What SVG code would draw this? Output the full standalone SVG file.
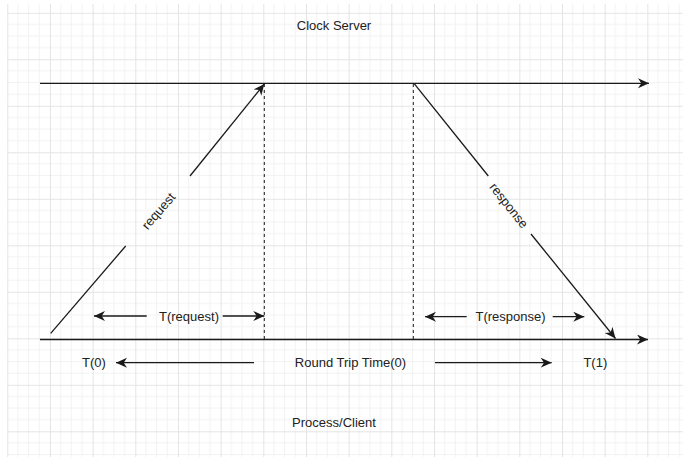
<svg xmlns="http://www.w3.org/2000/svg" width="683" height="457" viewBox="0 0 683 457">
  <style>
    .lbl { font-family: "Liberation Sans", Arial, sans-serif; font-size: 13px; fill: #222; text-anchor: middle; dominant-baseline: central; }
    .ln { stroke: #1a1a1a; stroke-width: 1.3; fill: none; }
    .dash { stroke: #1a1a1a; stroke-width: 1; stroke-dasharray: 3 3; fill: none; }
  </style>
  <defs>
    <pattern id="grid" patternUnits="userSpaceOnUse" x="7.3" y="12.8" width="42.67" height="46.5">
      <g stroke="#f2f2f2" stroke-width="1">
        <line x1="10.67" y1="0" x2="10.67" y2="46.5"/>
        <line x1="21.33" y1="0" x2="21.33" y2="46.5"/>
        <line x1="32" y1="0" x2="32" y2="46.5"/>
        <line x1="0" y1="11.63" x2="42.67" y2="11.63"/>
        <line x1="0" y1="23.25" x2="42.67" y2="23.25"/>
        <line x1="0" y1="34.88" x2="42.67" y2="34.88"/>
      </g>
      <g stroke="#e4e4e4" stroke-width="1">
        <line x1="0.5" y1="0" x2="0.5" y2="46.5"/>
        <line x1="0" y1="0.5" x2="42.67" y2="0.5"/>
      </g>
    </pattern>
    <!-- classic notched arrowhead shared by all connectors -->
    <marker id="arrow" markerUnits="userSpaceOnUse" markerWidth="13" markerHeight="11" refX="11" refY="5" orient="auto" viewBox="0 0 13 11">
      <path d="M0,0 L11,5 L0,10 L3.3,5 Z" fill="#1a1a1a"/>
    </marker>
  </defs>

  <!-- background grid -->
  <rect width="683" height="457" fill="#ffffff"/>
  <rect x="7" y="4" width="676" height="453" fill="url(#grid)"/>

  <!-- connectors -->
  <g id="connectors">
    <!-- server timeline -->
    <line class="ln" x1="40" y1="83.3" x2="649" y2="83.3" marker-end="url(#arrow)"/>
    <!-- client timeline -->
    <line class="ln" x1="40" y1="339.5" x2="648" y2="339.5" marker-end="url(#arrow)"/>
    <!-- request message -->
    <line class="ln" x1="50.7" y1="333.3" x2="125.7" y2="246"/>
    <line class="ln" x1="190" y1="176" x2="264.3" y2="84" marker-end="url(#arrow)"/>
    <!-- response message -->
    <line class="ln" x1="414" y1="83.3" x2="488.3" y2="176"/>
    <line class="ln" x1="531" y1="234" x2="615.5" y2="338.5" marker-end="url(#arrow)"/>
    <!-- projections -->
    <line class="dash" x1="264.3" y1="84" x2="264.3" y2="339"/>
    <line class="dash" x1="413.3" y1="84" x2="413.3" y2="339"/>
    <!-- T(request) span -->
    <line class="ln" x1="146.7" y1="316" x2="94" y2="316" marker-end="url(#arrow)"/>
    <line class="ln" x1="222.7" y1="316" x2="264.3" y2="316" marker-end="url(#arrow)"/>
    <!-- T(response) span -->
    <line class="ln" x1="466.7" y1="316.7" x2="425" y2="316.7" marker-end="url(#arrow)"/>
    <line class="ln" x1="552.7" y1="316.7" x2="584.3" y2="316.7" marker-end="url(#arrow)"/>
    <!-- round trip span -->
    <line class="ln" x1="254" y1="362.7" x2="116" y2="362.7" marker-end="url(#arrow)"/>
    <line class="ln" x1="435" y1="362.7" x2="551.7" y2="362.7" marker-end="url(#arrow)"/>
  </g>

  <!-- labels -->
  <g id="clock-server"><text class="lbl" x="334" y="25.5">Clock Server</text></g>
  <g id="process-client"><text class="lbl" x="334" y="422.3">Process/Client</text></g>
  <g id="request-label"><text class="lbl" transform="translate(158.5 211) rotate(-49.4)">request</text></g>
  <g id="response-label"><text class="lbl" transform="translate(509 205.5) rotate(51.6)">response</text></g>
  <g id="t-request"><text class="lbl" x="189" y="316">T(request)</text></g>
  <g id="t-response"><text class="lbl" x="510.5" y="316.7">T(response)</text></g>
  <g id="t0"><text class="lbl" x="94" y="362.7">T(0)</text></g>
  <g id="round-trip"><text class="lbl" x="350.5" y="362.7">Round Trip Time(0)</text></g>
  <g id="t1"><text class="lbl" x="595.3" y="362.7">T(1)</text></g>
</svg>
